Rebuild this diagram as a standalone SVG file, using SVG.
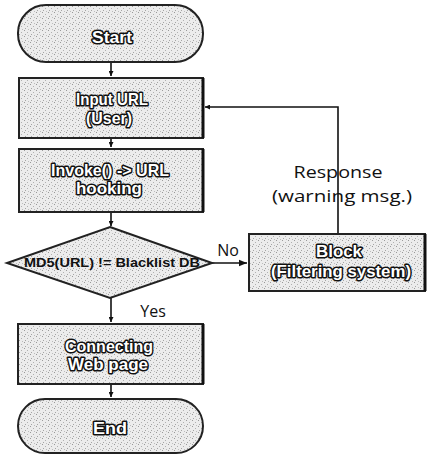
<svg xmlns="http://www.w3.org/2000/svg" width="427" height="458" viewBox="0 0 427 458">
<defs>
<pattern id="stip" width="6" height="6" patternUnits="userSpaceOnUse">
<rect width="6" height="6" fill="#ececec"/>
<rect x="0" y="0" width="1" height="1" fill="#9a9a9a"/>
<rect x="3" y="2" width="1" height="1" fill="#b0b0b0"/>
<rect x="1" y="4" width="1" height="1" fill="#a5a5a5"/>
<rect x="4" y="5" width="1" height="1" fill="#bdbdbd"/>
</pattern>
<marker id="ah" viewBox="0 0 10 10" refX="10" refY="5" markerWidth="5" markerHeight="5" orient="auto" markerUnits="userSpaceOnUse">
<path d="M0,0 L10,5 L0,10 z" fill="#111"/>
</marker>
<marker id="ah2" viewBox="0 0 10 10" refX="10" refY="5" markerWidth="8" markerHeight="8" orient="auto" markerUnits="userSpaceOnUse">
<path d="M0,1 L10,5 L0,9 z" fill="#111"/>
</marker>
</defs>
<style>
.box{fill:url(#stip);stroke:#222;stroke-width:2}
.edge{stroke:#111;stroke-width:3}
.bt{font-family:"Liberation Sans",Arial,sans-serif;font-weight:bold;font-size:17px;fill:#fff;stroke:#111;stroke-width:3;paint-order:stroke;stroke-linejoin:round;text-anchor:middle}
.dt{font-family:"Liberation Sans",Arial,sans-serif;font-weight:bold;font-size:12px;fill:#111;text-anchor:middle}
.lb{font-family:"Open Sans","Liberation Sans",sans-serif;font-size:16px;fill:#111;text-anchor:middle}
.cn{stroke:#111;stroke-width:1.6;fill:none}
</style>
<rect width="427" height="458" fill="#fff"/>
<g id="connectors">
<line class="cn" x1="111" y1="62" x2="111" y2="76" marker-end="url(#ah)"/>
<line class="cn" x1="111" y1="138" x2="111" y2="147" marker-end="url(#ah)"/>
<line class="cn" x1="111" y1="212" x2="111" y2="226" marker-end="url(#ah)"/>
<line class="cn" x1="111" y1="298" x2="111" y2="322" marker-end="url(#ah)"/>
<line class="cn" x1="111" y1="384" x2="111" y2="397" marker-end="url(#ah)"/>
<line class="cn" x1="211" y1="263" x2="247" y2="263" marker-end="url(#ah2)"/>
<polyline class="cn" points="338,233 338,107 205,107" marker-end="url(#ah)"/>
<text class="lb" x="228" y="256">No</text>
<text class="lb" x="153" y="317">Yes</text>
<text class="lb" x="338" y="178" textLength="89" lengthAdjust="spacingAndGlyphs">Response</text>
<text class="lb" x="342" y="202" textLength="140" lengthAdjust="spacingAndGlyphs">(warning msg.)</text>
</g>
<g id="start">
<rect class="box" x="18" y="5" width="185" height="57" rx="28" ry="28"/>
<text class="bt" x="112" y="43" font-size="15" textLength="40" lengthAdjust="spacingAndGlyphs">Start</text>
</g>
<g id="input">
<rect class="box" x="19" y="78" width="184" height="60"/>
<line class="edge" x1="203" y1="78" x2="203" y2="138"/>
<text class="bt" x="112" y="105" textLength="72" lengthAdjust="spacingAndGlyphs">Input URL</text>
<text class="bt" x="109" y="124" textLength="46" lengthAdjust="spacingAndGlyphs">(User)</text>
</g>
<g id="invoke">
<rect class="box" x="19" y="149" width="184" height="63"/>
<line class="edge" x1="203" y1="149" x2="203" y2="212"/>
<text class="bt" x="110" y="176" textLength="118" lengthAdjust="spacingAndGlyphs">Invoke() -&gt; URL</text>
<text class="bt" x="109" y="194" textLength="66" lengthAdjust="spacingAndGlyphs">hooking</text>
</g>
<g id="decision">
<polygon class="box" points="110,227 212,263 110,298 7,263"/>
<text class="dt" x="112" y="267" textLength="176" lengthAdjust="spacingAndGlyphs">MD5(URL) != Blacklist DB</text>
</g>
<g id="block">
<rect class="box" x="249" y="234" width="176" height="57"/>
<line class="edge" x1="425" y1="234" x2="425" y2="291"/>
<text class="bt" x="339" y="257" font-size="15" textLength="46" lengthAdjust="spacingAndGlyphs">Block</text>
<text class="bt" x="341" y="277" font-size="15" textLength="140" lengthAdjust="spacingAndGlyphs">(Filtering system)</text>
</g>
<g id="connecting">
<rect class="box" x="18" y="324" width="185" height="60"/>
<line class="edge" x1="203" y1="324" x2="203" y2="384"/>
<text class="bt" x="109" y="352" textLength="88" lengthAdjust="spacingAndGlyphs">Connecting</text>
<text class="bt" x="108" y="370" textLength="80" lengthAdjust="spacingAndGlyphs">Web page</text>
</g>
<g id="end">
<rect class="box" x="18" y="399" width="185" height="54" rx="27" ry="27"/>
<text class="bt" x="110" y="434" font-size="15" textLength="34" lengthAdjust="spacingAndGlyphs">End</text>
</g>
</svg>
